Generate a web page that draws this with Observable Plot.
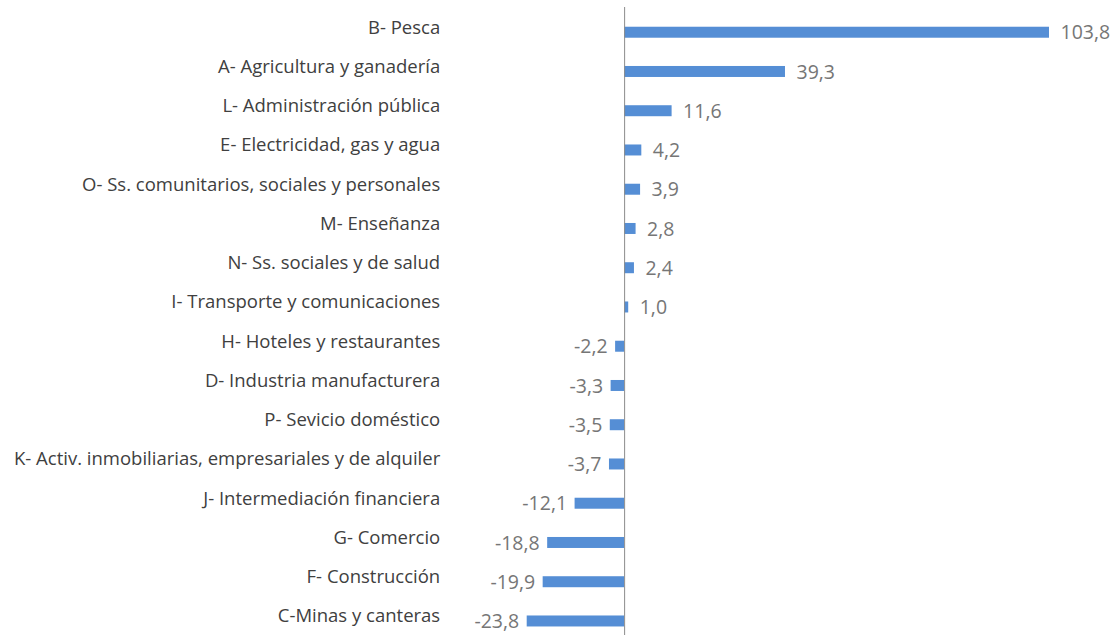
<!DOCTYPE html>
<html>
<head>
<meta charset="utf-8">
<script src="https://cdn.jsdelivr.net/npm/d3@7"></script>
<script src="https://cdn.jsdelivr.net/npm/@observablehq/plot@0.6"></script>
<style>
  html, body { margin: 0; padding: 0; background: #fff; }
  #chart svg { display: block; }
</style>
</head>
<body>
<div id="chart"></div>
<script>
const categories = [
  "B- Pesca",
  "A- Agricultura y ganadería",
  "L- Administración pública",
  "E- Electricidad, gas y agua",
  "O- Ss. comunitarios, sociales y personales",
  "M- Enseñanza",
  "N- Ss. sociales y de salud",
  "I- Transporte y comunicaciones",
  "H- Hoteles y restaurantes",
  "D- Industria manufacturera",
  "P- Sevicio doméstico",
  "K- Activ. inmobiliarias, empresariales y de alquiler",
  "J- Intermediación financiera",
  "G- Comercio",
  "F- Construcción",
  "C-Minas y canteras"
];
const values = [103.8, 39.3, 11.6, 4.2, 3.9, 2.8, 2.4, 1.0, -2.2, -3.3, -3.5, -3.7, -12.1, -18.8, -19.9, -23.8];

const data = categories.map((c, i) => ({cat: c, v: values[i]}));
const fmt = v => d3.format(".1f")(v).replace(".", ",").replace("−", "-");

const chart = Plot.plot({
  width: 1116,
  height: 635,
  marginLeft: 526.7,
  marginRight: 67,
  marginTop: 7,
  marginBottom: 0,
  style: {fontFamily: "'Open Sans', sans-serif", background: "#fff"},
  x: {domain: [-23.8, 103.8], axis: null},
  y: {domain: categories, range: [12.6, 640.6], paddingInner: 0.72, paddingOuter: 0.36, round: false, label: null},
  marks: [
    Plot.barX(data, {x: "v", y: "cat", fill: "#558ed5"}),
    Plot.ruleX([0], {stroke: "#8c8c8c", strokeWidth: 1}),
    Plot.axisY({tickSize: 0, tickPadding: 87, fontSize: 18.5, color: "#404040", label: null, dy: -5}),
    Plot.text(data.filter(d => d.v >= 0), {x: "v", y: "cat", text: d => fmt(d.v), dx: 11, dy: 0.5, textAnchor: "start", fill: "#767676", fontSize: 19.5}),
    Plot.text(data.filter(d => d.v < 0), {x: "v", y: "cat", text: d => fmt(d.v), dx: -8, dy: 0.5, textAnchor: "end", fill: "#767676", fontSize: 19.5})
  ]
});
document.getElementById("chart").appendChild(chart);
</script>
</body>
</html>
